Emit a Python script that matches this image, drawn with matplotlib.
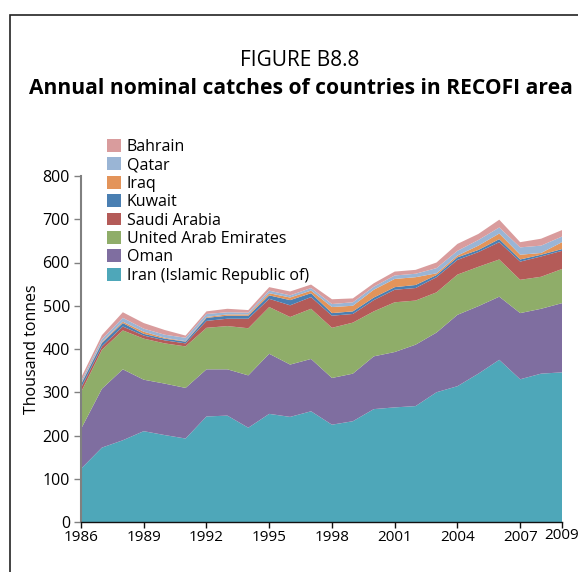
import matplotlib
matplotlib.use("Agg")
import matplotlib.pyplot as plt
from matplotlib.patches import Rectangle, Patch
from matplotlib.transforms import ScaledTranslation

years = list(range(1986, 2010))
iran = [123, 172, 189, 210, 201, 193, 244, 246, 218, 250, 243, 256, 225, 233, 261, 265, 268, 300, 314, 343, 375, 330, 343, 346]
oman = [92, 136, 164, 119, 119, 117, 109, 107, 121, 139, 121, 121, 108, 110, 122, 128, 142, 138, 165, 156, 146, 153, 150, 160]
uae = [85, 90, 90, 95, 93, 96, 96, 100, 109, 108, 110, 116, 116, 118, 104, 115, 102, 93, 93, 91, 86, 77, 74, 79]
saudi = [10, 8, 9, 7, 7, 7, 16, 17, 22, 19, 27, 27, 28, 20, 26, 29, 29, 35, 34, 34, 40, 42, 47, 42]
kuwait = [8, 8, 8, 4, 4, 4, 7, 7, 7, 8, 12, 9, 6, 6, 6, 6, 7, 5, 6, 5, 7, 5, 4, 4]
iraq = [2, 2, 3, 5, 2, 1, 2, 3, 3, 5, 6, 6, 14, 13, 18, 19, 18, 4, 4, 10, 13, 11, 4, 16]
qatar = [5, 7, 9, 7, 7, 8, 7, 5, 4, 6, 5, 6, 7, 8, 7, 8, 8, 12, 11, 13, 14, 17, 17, 13]
bahrain = [8, 9, 13, 13, 11, 5, 6, 8, 6, 8, 9, 8, 11, 9, 8, 9, 9, 13, 16, 14, 18, 12, 16, 15]

series = [iran, oman, uae, saudi, kuwait, iraq, qatar, bahrain]
labels = ["Iran (Islamic Republic of)", "Oman", "United Arab Emirates", "Saudi Arabia",
          "Kuwait", "Iraq", "Qatar", "Bahrain"]
colors = ["#4EA7B9", "#7F6EA0", "#8FAD69", "#B45B58", "#4A7FB2", "#E3945A", "#9AB5D5", "#D99C9D"]

xtick_vals = [1986, 1989, 1992, 1995, 1998, 2001, 2004, 2007, 2009]

plt.rcParams['font.family'] = ['Open Sans', 'DejaVu Sans']

fig = plt.figure(figsize=(5.78, 5.72), dpi=100)
fig.patches.append(Rectangle((10 / 578, -0.05), 1.2, 1 - 15 / 572 + 0.05,
                             transform=fig.transFigure, fill=False,
                             edgecolor="#222222", linewidth=1.2))

ax = fig.add_axes([81 / 578, 1 - 522 / 572, (562 - 81) / 578, (522 - 176) / 572])
ax.stackplot(years, *series, colors=colors, linewidth=0)

ax.set_xlim(1986, 2009)
ax.set_ylim(0, 800)
ax.set_yticks(range(0, 801, 100))
ax.set_xticks(xtick_vals)
ax.set_xticklabels([str(v) for v in xtick_vals])
for sp in ["top", "right"]:
    ax.spines[sp].set_visible(False)
ax.spines["left"].set_color("#808080")
ax.spines["left"].set_linewidth(1.5)
ax.spines["bottom"].set_color("#111111")
ax.spines["bottom"].set_linewidth(1.0)
ax.tick_params(axis="y", colors="#808080", labelcolor="black", length=5, width=1, labelsize=11.5, pad=3)
ax.tick_params(axis="x", colors="#111111", labelcolor="black", length=4, width=1, labelsize=11, pad=2)
lbls = ax.get_xticklabels()
lbls[-1].set_transform(lbls[-1].get_transform() + ScaledTranslation(0, 2 / 72, fig.dpi_scale_trans))

ax.set_ylabel("Thousand tonnes", fontsize=11.5, labelpad=2)

handles = [Patch(facecolor=c, edgecolor="none") for c in colors]
leg = fig.legend(handles[::-1], labels[::-1], loc="upper left",
                 bbox_to_anchor=(107 / 578, 1 - 139 / 572), frameon=False,
                 fontsize=11.5, handlelength=0.85, handleheight=0.85, handletextpad=0.4,
                 labelspacing=0.15, borderaxespad=0, borderpad=0)

fig.text(300 / 578, 1 - 60 / 572, "FIGURE B8.8", ha="center", va="center", fontsize=15)
fig.text(301 / 578, 1 - 89 / 572, "Annual nominal catches of countries in RECOFI area",
         ha="center", va="center", fontsize=15.1, fontweight="bold")

fig.savefig("out.png", dpi=100)
